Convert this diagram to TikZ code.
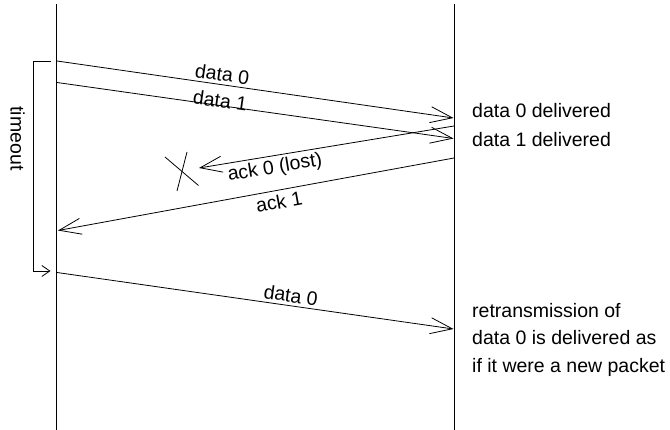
\documentclass[tikz,border=0pt]{standalone}
\usepackage{fontspec}
\setmainfont{Liberation Sans}
\usetikzlibrary{arrows.meta}
\begin{document}
\begin{tikzpicture}[x=1pt,y=-1pt,
  every node/.style={font=\fontsize{19.5}{27.5}\selectfont},
  life/.style={line width=0.9pt},
  msg/.style={line width=0.8pt,-{Straight Barb[length=22pt,width=16pt,line width=0.8pt]}},
  msgback/.style={line width=0.8pt,{Straight Barb[length=22pt,width=16pt,line width=0.8pt]}-},
  lbl/.style={sloped,inner sep=3pt},
  note/.style={anchor=base west,inner sep=0pt},
  timer/.style={line width=0.8pt,-{Straight Barb[length=8pt,width=11pt,line width=0.8pt]}},
  crossline/.style={line width=0.8pt}]
\useasboundingbox (0,0) rectangle (670,430);
% lifelines
\coordinate (sTop) at (56.7,4);
\coordinate (sBot) at (56.7,430);
\coordinate (rTop) at (454.3,4);
\coordinate (rBot) at (454.3,430);
\draw[life] (sTop) -- (sBot);
\draw[life] (rTop) -- (rBot);
% message end points
\coordinate (d0s) at (57,61);
\coordinate (d0e) at (453.5,118);
\coordinate (d1s) at (57,82.5);
\coordinate (d1e) at (453.5,138.5);
\coordinate (a0s) at (454,126);
\coordinate (a0e) at (199,168);
\coordinate (a1s) at (454,158);
\coordinate (a1e) at (58,230.5);
\coordinate (r0s) at (57,272.5);
\coordinate (r0e) at (453.5,329);
% messages
\draw[msg] (d0s) -- node[lbl,above,pos=0.413] (ld0) {data 0} (d0e);
\draw[msg] (d1s) -- node[lbl,anchor=base,pos=0.41,yshift=-2pt] (ld1) {data 1} (d1e);
\draw[msgback] (a0e) -- node[lbl,below,pos=0.29] (la0) {ack 0 (lost)} (a0s);
\draw[msgback] (a1e) -- node[lbl,below,pos=0.553,inner sep=4pt] (la1) {ack 1} (a1s);
\draw[msg] (r0s) -- node[lbl,above,pos=0.586] (lr0) {data 0} (r0e);
% lost marker
\coordinate (x1a) at (165,157);
\coordinate (x1b) at (198.5,185.5);
\coordinate (x2a) at (187,152);
\coordinate (x2b) at (177,191);
\draw[crossline] (x1a) -- (x1b);
\draw[crossline] (x2a) -- (x2b);
% timeout bracket
\coordinate (t0) at (51,61);
\coordinate (t1) at (33,61);
\coordinate (t2) at (33,271);
\coordinate (t3) at (50.5,271);
\draw[timer] (t0) -- (t1) -- (t2) -- (t3);
\node[rotate=-90,inner sep=0pt] (tout) at (17.5,138.5) {timeout};
% receiver notes
\node[note] (n0) at (472,118) {data 0 delivered};
\node[note] (n1) at (472,146.5) {data 1 delivered};
\node[inner sep=0pt,anchor=north west,align=left] (n2) at (472,303) {retransmission of\\data 0 is delivered as\\if it were a new packet};
\end{tikzpicture}
\end{document}
